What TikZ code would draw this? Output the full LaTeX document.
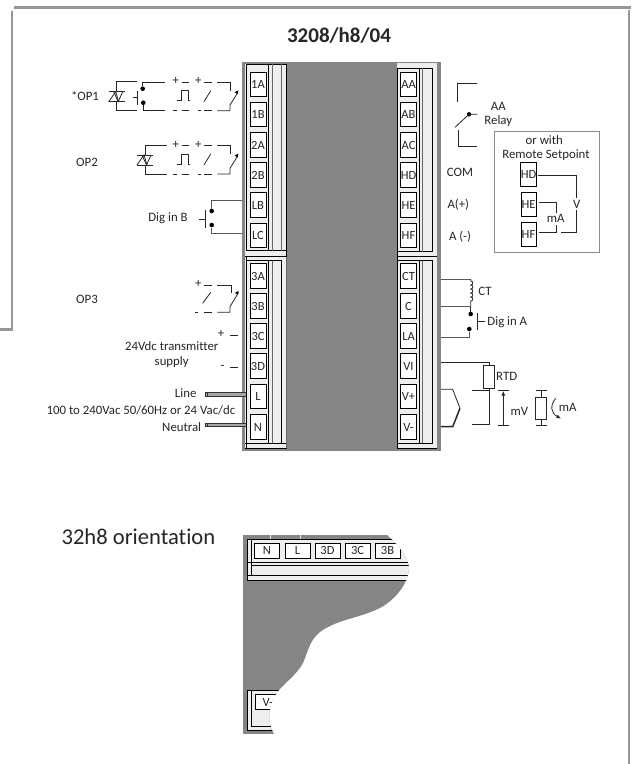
\documentclass[tikz,border=0pt]{standalone}
\usepackage{fontspec}
\setmainfont{Carlito}[RawFeature={-liga}]
\usetikzlibrary{arrows.meta,decorations.pathmorphing}
\definecolor{pgray}{HTML}{858585}
\definecolor{plight}{HTML}{EEEEEE}
\definecolor{fgray}{HTML}{96969A}
\tikzset{
  x=1pt,y=-1pt,
  lbl/.style={inner sep=0pt,font=\fontsize{12.8}{12.8}\selectfont,text=black!85},
  term/.style={draw=black,fill=white,line width=0.7pt,minimum width=16pt,minimum height=24.5pt,inner sep=0pt,font=\fontsize{12.5}{12.5}\selectfont,text=black!85},
  termh/.style={draw=black,fill=white,line width=0.7pt,minimum width=25pt,minimum height=15pt,inner sep=0pt,font=\fontsize{12.5}{12.5}\selectfont,text=black!85},
  wire/.style={line width=0.8pt,draw=black!85},
  gw/.style={line width=0.8pt,draw=black!65},
  frm/.style={line width=0.8pt,draw=black},
  thn/.style={line width=0.5pt,draw=black!60},
  dot/.style={circle,fill=black,inner sep=0pt,minimum size=4.6pt},
}
\newcommand{\triacsym}[2]{%
  \draw[wire] (#1-8,#2-5) -- (#1+8,#2-5);
  \draw[wire] (#1-8,#2+5) -- (#1+8,#2+5);
  \draw[wire] (#1-8,#2+5) -- (#1-1,#2-5) -- (#1+2,#2+5);
  \draw[wire] (#1-3,#2-5) -- (#1+1.5,#2+5) -- (#1+6,#2-5);
}
\newcommand{\switchrow}[1]{%
  \node[lbl] at (175.7,#1+81.3) {+};
  \node[lbl] at (198.3,#1+81.3) {+};
  \draw[wire] (181.7,#1+82.3) -- (189.3,#1+82.3) (204,#1+82.3) -- (211.7,#1+82.3);
  \draw[wire] (217.3,#1+82.3) -- (230,#1+82.3) -- (230,#1+90.7);
  \draw[wire] (173.3,#1+110.7) -- (176.7,#1+110.7) (181.7,#1+110.7) -- (189.3,#1+110.7) (198,#1+110.7) -- (201,#1+110.7) (204,#1+110.7) -- (211.7,#1+110.7);
  \draw[wire] (217.3,#1+110.7) -- (230,#1+110.7) -- (230,#1+105) -- (237.7,#1+92.7);
  \fill[black] (238.4,#1+90.4) -- (234.6,#1+92.2) -- (237.8,#1+94.2) -- cycle;
  \draw[wire] (177.3,#1+100.7) -- (181.7,#1+100.7) -- (181.7,#1+90.7) -- (188.3,#1+90.7) -- (188.3,#1+100.7) -- (190,#1+100.7);
  \draw[wire] (204,#1+101.7) -- (210.7,#1+90.7);
}
\begin{document}
\begin{tikzpicture}
\useasboundingbox (0,0) rectangle (632,764);
\fill[white] (0,0) rectangle (632,764);
% frame
\draw[fgray,line width=2.6pt] (14,7.3) -- (630.5,7.3);
\draw[fgray,line width=2.6pt] (12,11) -- (12,330.5);
\draw[fgray,line width=2.6pt] (0,329.3) -- (13.3,329.3);
\draw[fgray,line width=2.6pt] (629,9.5) -- (629,764);
\node[inner sep=0pt,font=\fontsize{21}{21}\selectfont\bfseries,text=black!85] (title) at (339,36) {3208/h8/04};
% panel
\fill[pgray] (242,62) rectangle (441,451);
\fill[plight] (245,64) rectangle (287,448);
\fill[plight] (396.5,62.5) rectangle (437,448);
% panel lines left
\draw[frm] (246.7,64.3) -- (286.7,64.3) (246.7,250.7) -- (286.7,250.7);
\draw[frm] (245,256.7) -- (286.7,256.7) (246.7,260.7) -- (281.7,260.7) (245,443) -- (286.7,443);
\draw[frm] (246.7,64) -- (246.7,250.7) (246.7,256.7) -- (246.7,448);
\draw[frm] (268,64) -- (268,250.7) (268,260.7) -- (268,443);
\draw[thn] (281.7,64) -- (281.7,250.7);
\draw[frm] (281.7,260.7) -- (281.7,443);
\draw[frm] (286.7,64) -- (286.7,256.7);
\draw[thn] (286.7,256.7) -- (286.7,448);
\draw[thn] (272.6,64) -- (272.6,250.7) (272.6,260.7) -- (272.6,443);
\draw[frm] (245,448) -- (286.7,448);
% panel lines right
\draw[frm] (397,68.3) -- (432.7,68.3) (397,251.7) -- (432.7,251.7);
\draw[frm] (397,256.3) -- (437,256.3) (397,260.7) -- (432.7,260.7) (397,443) -- (432.7,443) (397,448) -- (437,448);
\draw[frm] (397,68) -- (397,448);
\draw[frm] (419,68) -- (419,251.7) (419,260.7) -- (419,443);
\draw[frm] (432.7,68) -- (432.7,251.7) (432.7,260.7) -- (432.7,443);
\draw[thn] (422.7,68) -- (422.7,251.7) (422.7,260.7) -- (422.7,443);
% terminals left
\foreach \n/\t/\y in {a1/1A/84.5,b1/1B/114.5,a2/2A/145,b2/2B/175,lb/LB/205,lc/LC/235.5,a3/3A/276,b3/3B/306,c3/3C/336,d3/3D/366,tl/L/396.5,tn/N/427}{
  \node[term] (\n) at (258,\y) {\t};
}
% terminals right
\foreach \n/\t/\y in {aa/AA/84.5,ab/AB/114.5,ac/AC/145,hd/HD/175,he/HE/205,hf/HF/235.5,ct/CT/276,c/C/306,la/LA/336,vi/VI/366,vp/V+/396.5,vm/V-/427}{
  \node[term] (\n) at (408.5,\y) {\t};
}
% OP1
\node[lbl] (op1) at (85,96) {*OP1};
\triacsym{116.7}{96.7}
\draw[wire] (116.7,91.7) -- (116.7,81.7) -- (137.3,81.7);
\draw[wire] (116.7,101.7) -- (116.7,110.7) -- (137.3,110.7);
\node[dot] (d1) at (142.7,88.7) {};
\node[dot] (d2) at (143.3,102.7) {};
\draw[wire] (d1) -- (142.7,82.3) -- (165,82.3);
\draw[wire] (d2) -- (143.3,110.7) -- (165,110.7);
\draw[wire] (137.3,90.7) -- (137.3,105) (132.7,97.7) -- (137.3,97.7);
\switchrow{0}
% OP2
\node[lbl] (op2) at (87,162) {OP2};
\triacsym{145}{160}
\draw[wire] (145,155) -- (145,145.7) -- (166.7,145.7);
\draw[wire] (145,165) -- (145,174) -- (166.7,174);
\switchrow{63.3}
% Dig in B
\node[lbl] (digb) at (168,218) {Dig in B};
\node[dot] (d3) at (211.7,211) {};
\node[dot] (d4) at (211.7,225) {};
\draw[gw] (242,200.7) -- (211.7,200.7) -- (d3);
\draw[gw] (242,233.3) -- (211.7,233.3) -- (d4);
\draw[wire] (205.7,210) -- (205.7,228) (199.3,219) -- (205.7,219);
% OP3
\node[lbl] (op3) at (87,299) {OP3};
\node[lbl] at (198.3,284) {+};
\draw[wire] (204.3,285) -- (211.7,285) (217.3,285) -- (231,285) -- (231,293.3);
\draw[wire] (202.7,303.3) -- (210.7,292.3);
\draw[wire] (195,312.3) -- (198.3,312.3) (204.3,312.3) -- (211.7,312.3);
\draw[wire] (217.3,312.3) -- (230,312.3) -- (230,306.7) -- (238,293.3);
\fill[black] (238.7,291) -- (234.9,292.8) -- (238.1,294.8) -- cycle;
% 3C 3D
\node[lbl] at (221,334) {+};
\draw[wire] (230,335) -- (238.3,335);
\node[lbl] at (222.7,367) {-};
\draw[wire] (230,367.7) -- (238.3,367.7);
\node[lbl] (sup1) at (171.7,345.7) {24Vdc transmitter};
\node[lbl] (sup2) at (171.7,361.7) {supply};
\node[lbl] (line) at (185.7,393.3) {Line};
\node[lbl] (vac) at (141,410) {100 to 240Vac 50/60Hz or 24 Vac/dc};
\node[lbl] (neu) at (181.7,427) {Neutral};
\fill[black!35] (205.5,392.5) rectangle (246,396);
\draw[line width=0.5pt,black!80] (205,392.3) rectangle (207,396);
\draw[line width=0.5pt,black!80] (205,392.3) -- (246,392.3) (205,396) -- (246,396);
\fill[black!35] (205.5,423.3) rectangle (246,426.7);
\draw[line width=0.5pt,black!80] (205,423.3) rectangle (207,426.7);
\draw[line width=0.5pt,black!80] (205,423.3) -- (246,423.3) (205,426.7) -- (246,426.7);
% Relay
\draw[wire] (457.7,102.3) -- (457.7,83.3) -- (476.7,83.3);
\draw[wire] (458.3,130) -- (458.3,146) -- (477.3,146);
\node[dot,minimum size=4.4pt] (d5) at (469,114.3) {};
\draw[wire] (455,127.3) -- (d5.center) -- (477.3,114.3);
\node[lbl] (aal) at (498.3,106) {AA};
\node[lbl] (rel) at (498.3,121) {Relay};
\node[lbl] (com) at (460,172) {COM};
\node[lbl] (ap) at (458.3,204.3) {A(+)};
\node[lbl] (am) at (460,236.7) {A (-)};
% Remote setpoint box
\draw[line width=0.8pt,draw=black!45] (494,131.7) rectangle (599.3,252.7);
\node[lbl] (orw) at (544.3,140) {or with};
\node[lbl] (rem) at (546,155) {Remote Setpoint};
\node[term,minimum width=15pt,minimum height=24.4pt] (rhd) at (528.5,174.5) {HD};
\node[term,minimum width=15pt,minimum height=24.4pt] (rhe) at (528.5,204.5) {HE};
\node[term,minimum width=15pt,minimum height=24pt] (rhf) at (528.5,234.7) {HF};
\node[lbl] (vlab) at (576.7,204) {V};
\node[lbl] (malab) at (555.7,218.3) {mA};
\draw[wire] (538.3,175) -- (576.7,175) -- (576.7,198.3);
\draw[wire] (576.7,210) -- (576.7,232.7) -- (561,232.7);
\draw[wire] (539,202.7) -- (556,202.7) -- (556,213.3);
\draw[wire] (556,225) -- (556,232.7) -- (539,232.7);
% CT
\draw[gw] (441,279) -- (470.7,279);
\draw[wire] (470.7,279) -- (470.7,281) .. controls (473.5,281) and (473.5,285) .. (470.7,285) .. controls (473.5,285) and (473.5,289) .. (470.7,289) .. controls (473.5,289) and (473.5,293) .. (470.7,293) .. controls (473.5,293) and (473.5,297) .. (470.7,297) .. controls (473.5,297) and (473.5,301) .. (470.7,301) -- (470.7,306.7);
\draw[gw] (441,306.7) -- (470.7,306.7);
\node[dot] (d6) at (470.7,314) {};
\node[dot] (d7) at (469.3,329) {};
\draw[wire] (470.7,306.7) -- (d6);
\draw[gw] (d7) -- (469.3,337.3) -- (441,337.3);
\draw[wire] (477.3,313.3) -- (477.3,330) (477.3,321.7) -- (485,321.7);
\node[lbl] (ctl) at (485,291.7) {CT};
\node[lbl] (diga) at (507.3,321.7) {Dig in A};
% RTD
\node[draw=black!85,fill=white,line width=0.8pt,minimum width=10.6pt,minimum height=22.6pt,inner sep=0pt] (rtd) at (489,377) {};
\draw[wire] (441,362.3) -- (489,362.3) -- (rtd.north);
\draw[wire] (471.7,390.7) -- (489,390.7);
\draw[wire] (rtd.south) -- (489,424.3) -- (471.7,424.3);
\node[lbl] (rtdl) at (506.7,376) {RTD};
% thermocouple
\draw[wire] (441,389.3) -- (452.7,389.3) -- (460,408.3);
\draw[wire,line width=1.5pt] (460,408.3) -- (452.7,426.7) -- (441,426.7);
% mV
\draw[wire] (497.7,390.7) -- (509,390.7) (497.7,425) -- (509,425);
\draw[wire,-{Latex[length=4.5pt,width=4pt]}] (503.3,425) -- (503.3,391);
\node[lbl] (mvl) at (519.3,411) {mV};
% mA
\node[draw=black!85,fill=white,line width=0.8pt,minimum width=11pt,minimum height=22pt,inner sep=0pt] (res) at (541,408.3) {};
\draw[wire] (535.7,390.7) -- (546.7,390.7) (535.7,425) -- (546.7,425);
\draw[wire] (541,390.7) -- (res.north) (res.south) -- (541,425);
\draw[wire,-{Latex[length=4.5pt,width=4pt]}] (555.7,398.3) .. controls (550,405) and (550.5,413) .. (561,418.5);
\node[lbl] (mal) at (567.7,407.7) {mA};
% orientation
\node[inner sep=0pt,font=\fontsize{22.6}{22.6}\selectfont,text=black!85] (ori) at (138.4,536.7) {32h8 orientation};
\begin{scope}
\clip (243,535) -- (387,535) .. controls (398,545) and (408,556) .. (409,568) .. controls (408,583) and (398,596) .. (385,605) .. controls (368,616) and (345,618) .. (328,627) .. controls (312,635) and (310,645) .. (305,658) .. controls (301,671) and (288,680) .. (279,690) .. controls (268,703) and (266,720) .. (274,734) -- (243,734) -- cycle;
\fill[pgray] (243,535) rectangle (420,734);
\fill[plight] (247,539) rectangle (420,580);
\draw[frm] (247,539) -- (420,539) (247,539) -- (247,580) (251,539) -- (251,576);
\draw[frm] (247,562.3) -- (420,562.3) (251,565.7) -- (420,565.7) (247,575.7) -- (420,575.7) (247,580) -- (420,580);
\draw[plight,line width=1pt] (270,535) -- (270,539) (300,535) -- (300,539);
\foreach \n/\t/\x in {hn/N/267,hl/L/297.5,hd/3D/327.5,hc/3C/357.5,hb/3B/387.5}{
  \node[termh] (\n) at (\x,550.5) {\t};
}
\fill[plight] (247,690) rectangle (290,730);
\draw[frm] (247,690) -- (290,690) (247,690) -- (247,730) (251,690) -- (251,726.5) (251,726.5) -- (290,726.5) (247,730) -- (290,730);
\node[termh,anchor=west] (hv) at (255,702) {V-};
\end{scope}
\end{tikzpicture}
\end{document}
